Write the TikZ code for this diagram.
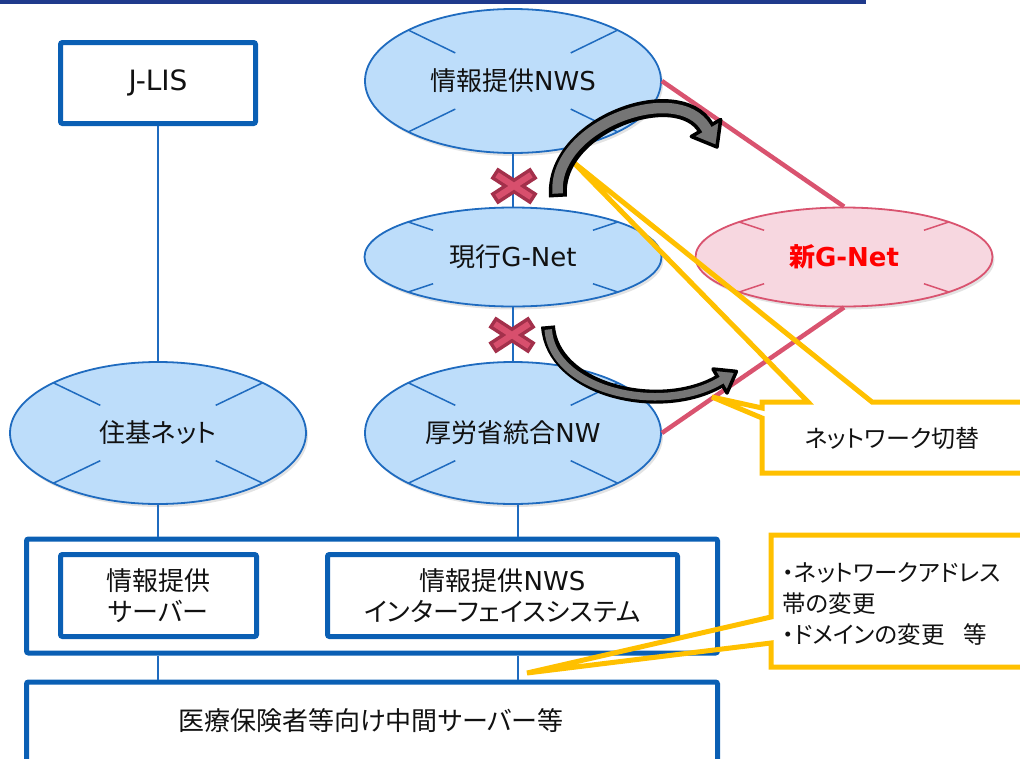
\documentclass[tikz,border=0pt]{standalone}
\usepackage{fontspec}
\setmainfont{DejaVu Sans}
\newfontfamily\jp[RawFeature=+palt]{Noto Sans CJK JP}
\usetikzlibrary{shapes.geometric,calc,shadows}
\definecolor{boxblue}{HTML}{0A5FB4}
\definecolor{ellfill}{HTML}{BDDDFA}
\definecolor{elldraw}{HTML}{1F6BBF}
\definecolor{pinkfill}{HTML}{F7D7E0}
\definecolor{pinkdraw}{HTML}{D9536F}
\definecolor{callyel}{HTML}{FFC000}
\definecolor{crossdark}{HTML}{A3304B}
\definecolor{crossfill}{HTML}{D84F6D}
\definecolor{navybar}{HTML}{1F3A8C}
\definecolor{txt}{HTML}{111111}
\definecolor{arrgray}{HTML}{757575}
\newcommand{\J}[1]{{\jp #1}}
\newcommand{\ellticks}[5]{%
  \foreach \sx in {-1,1}{\foreach \sy in {-1,1}{%
    \draw[line width=1.5pt, draw=#5] ($(#1.center)+(\sx*0.707*#2,\sy*0.707*#3)$) -- ($(#1.center)+(\sx*#4*#2,\sy*#4*#3)$);
  }}}
\newcommand{\xmark}[1]{%
  \draw[crossdark, line width=13pt] ($(#1)+(-20,-13)$) -- ($(#1)+(20,13)$) ($(#1)+(-20,13)$) -- ($(#1)+(20,-13)$);
  \draw[crossfill, line width=6pt, shorten <=3.5pt, shorten >=3.5pt] ($(#1)+(-20,-13)$) -- ($(#1)+(20,13)$);
  \draw[crossfill, line width=6pt, shorten <=3.5pt, shorten >=3.5pt] ($(#1)+(-20,13)$) -- ($(#1)+(20,-13)$);
}
\tikzset{
  toparc/.style={insert path={(558,197) .. controls (552,125) and (678,80) .. (706,128)}},
  botarc/.style={insert path={(548,326) .. controls (552,390) and (660,416) .. (720,381)}}
}
\begin{document}
\begin{tikzpicture}[x=1pt,y=-1pt,
  lbl/.style={font=\fontsize{26}{31}\selectfont, text=txt, align=center},
  bluebox/.style={draw=boxblue, line width=5pt, rounded corners=2pt, fill=white, inner sep=0pt, lbl},
  net/.style={ellipse, draw=elldraw, line width=1.8pt, fill=ellfill, inner sep=0pt, lbl,
    drop shadow={opacity=0.22, shadow xshift=2pt, shadow yshift=-3pt}},
  newnet/.style={net, draw=pinkdraw, fill=pinkfill},
  conn/.style={draw=elldraw, line width=1.8pt},
  pinkline/.style={draw=pinkdraw, line width=4.5pt},
  callout/.style={draw=callyel, line width=5pt, line join=miter},
]
\useasboundingbox (0,0) rectangle (1020,758);
\clip (0,0) rectangle (1020,758);
\fill[navybar] (0,0) rectangle (866,4);

% network ellipses
\node[bluebox, minimum width=195pt, minimum height=81pt, font=\fontsize{28}{33}\selectfont] (jlis) at (158,83) {J-LIS};
\node[net, minimum width=296pt, minimum height=144pt] (nws) at (513,81) {\J{情報提供}NWS};
\node[net, minimum width=297pt, minimum height=99pt] (gen) at (513,257) {\J{現行}G-Net};
\node[net, minimum width=296pt, minimum height=142pt] (kr) at (513,433) {\J{厚労省統合}NW};
\node[net, minimum width=296pt, minimum height=142pt] (jk) at (158,433) {\J{住基ネット}};
\node[newnet, minimum width=297pt, minimum height=99pt, text=red] (sg) at (844,257) {\bfseries{\jp\bfseries 新}G-Net};

\ellticks{nws}{148}{72}{0.39}{elldraw}
\ellticks{jk}{148}{71}{0.39}{elldraw}
\ellticks{kr}{148}{71}{0.39}{elldraw}
\ellticks{gen}{148}{49.5}{0.54}{elldraw}
\ellticks{sg}{148}{49.5}{0.54}{pinkdraw}

% server boxes
\node[bluebox, minimum width=691pt, minimum height=114pt] (outer) at (372,596) {};
\node[bluebox, minimum width=196pt, minimum height=82pt] (srv) at (158.5,595.5) {\J{情報提供}\\\J{サーバー}};
\node[bluebox, minimum width=350pt, minimum height=82pt] (ifs) at (502.5,595.5) {\J{情報提供}NWS\\\J{インターフェイスシステム}};
\node[bluebox, minimum width=691pt, minimum height=140pt] (mid) at (372,752) {};
\node[lbl] (midtxt) at (371,721) {\J{医療保険者等向け中間サーバー等}};

% connectors
\coordinate (rx) at (518,0);
\draw[conn] (jlis.south) -- (jk.north);
\draw[conn] (nws.south) -- (gen.north);
\draw[conn] (gen.south) -- (kr.north);
\draw[conn] (jk.south) -- (jk.south |- outer.north);
\draw[conn] (kr.south -| rx) -- (outer.north -| rx);
\draw[conn] (outer.south -| jk.south) -- (mid.north -| jk.south);
\draw[conn] (outer.south -| rx) -- (mid.north -| rx);
\draw[pinkline] (nws.east) -- (sg.north);
\draw[pinkline] (sg.south) -- (kr.east);

% crosses
\coordinate (x1) at (514,186);
\coordinate (x2) at (512,335);
\xmark{x1}
\xmark{x2}

% callouts
\draw[callout] (762,402) -- (808,402) -- (573,162) -- (872,402) -- (1040,402) -- (1040,473) -- (762,473) -- (762,418) -- (712,397) -- (762,408) -- cycle;
\node[lbl, font=\fontsize{24}{29}\selectfont] (ct1) at (892,438) {\J{ネットワーク切替}};
\draw[callout] (771,535) -- (1040,535) -- (1040,667) -- (771,667) -- (771,643) -- (527,673) -- (771,617) -- cycle;
\node[anchor=west, align=left, text=txt, font=\fontsize{23.5}{31}\selectfont] (ct2) at (779,604)
  {\J{・ネットワークアドレス}\\\J{帯の変更}\\\J{・ドメインの変更}\hspace{0.8em}\J{等}};

% curved switch arrows
\draw[black, line width=18pt, toparc];
\filldraw[fill=arrgray, draw=black, line width=3.5pt, line join=round] (691.3,136.5) -- (717,147) -- (720.7,119.5) -- cycle;
\draw[arrgray, line width=10.5pt, shorten <=3.5pt, toparc] -- (708,131.5);

\draw[black, line width=14pt, botarc];
\filldraw[fill=arrgray, draw=black, line width=3.5pt, line join=round] (713,369) -- (736.4,371.4) -- (727,393) -- cycle;
\draw[arrgray, line width=7.5pt, shorten <=3.5pt, botarc] -- (723.5,379);
\end{tikzpicture}
\end{document}
